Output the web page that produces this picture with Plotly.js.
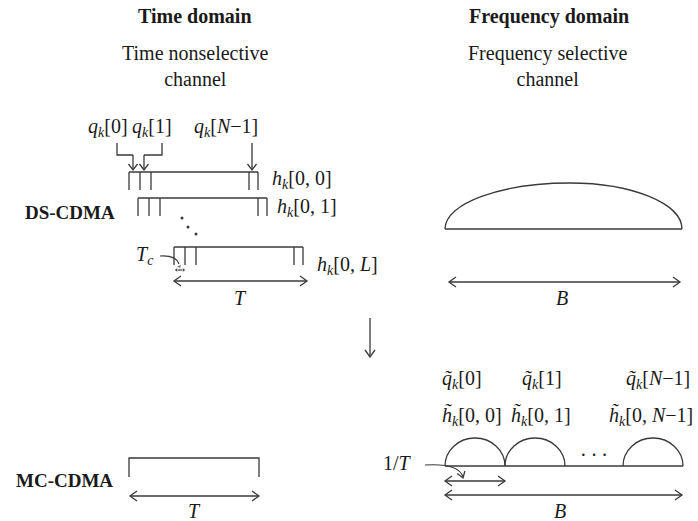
<!DOCTYPE html>
<html><head><meta charset="utf-8">
<script src="https://cdn.plot.ly/plotly-3.0.1.min.js"></script>
<style>html,body{margin:0;padding:0;background:#fff}#chart{width:698px;height:521px}</style>
</head><body><div id="chart"></div>
<script>
// ---------- texts ----------
const columnHeadings = ['Time domain', 'Frequency domain'];
const channelTypes = ['Time nonselective<br>channel', 'Frequency selective<br>channel'];
const schemes = ['DS-CDMA', 'MC-CDMA'];
const chipLabels = ['<i>q<sub>k</sub></i>[0]', '<i>q<sub>k</sub></i>[1]', '<i>q<sub>k</sub></i>[<i>N</i>\u22121]'];
const pathLabels = ['<i>h<sub>k</sub></i>[0, 0]', '<i>h<sub>k</sub></i>[0, 1]', '<i>h<sub>k</sub></i>[0, <i>L</i>]'];
const subcarrierCodes = ['<i>q\u0303<sub>k</sub></i>[0]', '<i>q\u0303<sub>k</sub></i>[1]', '<i>q\u0303<sub>k</sub></i>[<i>N</i>\u22121]'];
const subcarrierGains = ['<i>h\u0303<sub>k</sub></i>[0, 0]', '<i>h\u0303<sub>k</sub></i>[0, 1]', '<i>h\u0303<sub>k</sub></i>[0, <i>N</i>\u22121]'];
const durationLabels = { chip: '<i>T<sub>c</sub></i>', symbol: '<i>T</i>', band: '<i>B</i>', spacing: '1/<i>T</i>' };

// ---------- geometry (diagram layout, pixel-like units) ----------
const dsBlockLeft = [129, 138, 174];
const dsBlockTop = [172, 198, 247];
const chipEdges = [0, 11, 22, 120, 129];
const chipDepth = 18;
const subArcLeft = [445, 505, 623];
const subArcWidth = 60;

const INK = '#3a3a3a';
const FONT = 'Liberation Serif';
const LW = 1.3;

const bx = [], by = [];
function seg(xs, ys) { xs.forEach((v, i) => { bx.push(v); by.push(ys[i]); }); bx.push(null); by.push(null); }
function head(tx, ty, fx, fy, L, W) {
  const d = Math.hypot(tx - fx, ty - fy), ux = (tx - fx) / d, uy = (ty - fy) / d;
  seg([tx - L * ux + W * uy, tx, tx - L * ux - W * uy], [ty - L * uy - W * ux, ty, ty - L * uy + W * ux]);
}
function arrow(tx, ty, fx, fy, both, L, W) {
  L = L || 7; W = W || 5;
  seg([fx, tx], [fy, ty]);
  head(tx, ty, fx, fy, L, W);
  if (both) head(fx, fy, tx, ty, L, W);
}

// DS-CDMA blocks
dsBlockLeft.forEach((L, i) => {
  const T = dsBlockTop[i];
  seg([L, L + chipEdges[chipEdges.length - 1]], [T, T]);
  chipEdges.forEach(e => seg([L + e, L + e], [T, T + chipDepth]));
});
// MC-CDMA bracket
seg([129, 129, 259, 259], [477, 458, 458, 477]);
// q pointers
seg([117, 117, 133], [143, 155, 155]);
seg([162, 162, 144], [143, 155, 155]);
arrow(133, 170, 133, 155, false, 6, 4.5);
arrow(144, 170, 144, 155, false, 6, 4.5);
arrow(252, 170, 252, 143, false, 6, 4.5);
// duration / bandwidth arrows
arrow(307, 281, 174, 281, true);
arrow(259, 496, 130, 496, true);
arrow(680, 282, 449, 282, true);
arrow(682, 495, 445, 495, true);
arrow(505, 481, 445, 481, true);
// baselines
seg([445, 682], [229, 229]);
seg([445, 683], [466, 466]);
// transform arrow
arrow(370, 357, 370, 318, false, 7, 5);
// 1/T pointer head
head(463, 478, 461, 472, 6, 4);
// Tc small double arrow shaft
seg([176, 184], [270, 270]);

const traces = [
  { x: bx, y: by, mode: 'lines', line: { color: INK, width: LW }, hoverinfo: 'skip', showlegend: false },
  { x: [182, 188, 196], y: [218, 227, 234], mode: 'markers', marker: { color: INK, size: 3 }, hoverinfo: 'skip', showlegend: false },
  { x: [176.5, 183.5, 179.5], y: [270, 270, 266.5], mode: 'markers',
    marker: { color: INK, size: [5, 5, 5], symbol: ['triangle-left', 'triangle-right', 'triangle-down'], angle: [0, 0, -25] },
    hoverinfo: 'skip', showlegend: false }
];

// ---- shapes: curves ----
const shapes = [];
const k = 0.5523;
(function () {
  const x0 = 445, x1 = 682, xp = 570, yb = 229, yt = 183;
  const rl = xp - x0, rr = x1 - xp, h = yb - yt;
  shapes.push({ type: 'path', xref: 'x', yref: 'y', line: { color: INK, width: LW },
    path: `M${x0},${yb} C${x0},${yb - h * k} ${xp - rl * k},${yt} ${xp},${yt} C${xp + rr * k},${yt} ${x1},${yb - h * k} ${x1},${yb}` });
})();
subArcLeft.forEach(x0 => {
  const r = subArcWidth / 2, c = x0 + r, yb = 466, h = 28, yt = yb - h;
  shapes.push({ type: 'path', xref: 'x', yref: 'y', line: { color: INK, width: LW },
    path: `M${x0},${yb} C${x0},${yb - h * k} ${c - r * k},${yt} ${c},${yt} C${c + r * k},${yt} ${x0 + subArcWidth},${yb - h * k} ${x0 + subArcWidth},${yb}` });
});
shapes.push({ type: 'path', xref: 'x', yref: 'y', line: { color: INK, width: 1.1 }, path: 'M160,256 Q176,255 179,264' });
shapes.push({ type: 'path', xref: 'x', yref: 'y', line: { color: INK, width: 1.1 }, path: 'M425,465 Q459,463 463,477' });

// ---- annotations (texts only) ----
const ann = [];
function txt(x, y, t, size, opt) {
  ann.push(Object.assign({ x: x, y: y, xref: 'x', yref: 'y', text: t, showarrow: false,
    font: { size: size }, xanchor: 'center', yanchor: 'middle' }, opt || {}));
}
const bold = (s) => '<b>' + s + '</b>';

txt(195, 16, bold(columnHeadings[0]), 20);
txt(549, 16, bold(columnHeadings[1]), 20);
txt(195, 66, channelTypes[0], 20);
txt(547, 66, channelTypes[1], 20);
txt(70, 212, bold(schemes[0]), 19);
txt(64, 480, bold(schemes[1]), 19);

[108, 152, 226].forEach((x, i) => txt(x, 127, chipLabels[i], 20));
[[270, 179], [275, 207], [315, 265]].forEach((p, i) => txt(p[0], p[1], pathLabels[i], 20, { xanchor: 'left' }));
[462, 542, 658].forEach((x, i) => txt(x, 379, subcarrierCodes[i], 20));
[472, 541, 651].forEach((x, i) => txt(x, 416, subcarrierGains[i], 20));

txt(145, 255, durationLabels.chip, 20);
txt(240, 298, durationLabels.symbol, 20);
txt(194, 511, durationLabels.symbol, 20);
txt(562, 298, durationLabels.band, 20);
txt(560, 511, durationLabels.band, 20);
txt(397, 463, durationLabels.spacing, 20);
txt(594, 455, '\u00b7\u2009\u00b7\u2009\u00b7', 20);

const layout = {
  width: 698, height: 521,
  margin: { l: 0, r: 0, t: 0, b: 0 },
  font: { family: FONT, size: 20, color: '#1a1a1a' },
  paper_bgcolor: '#fff', plot_bgcolor: '#fff',
  xaxis: { range: [0, 698], visible: false, fixedrange: true },
  yaxis: { range: [521, 0], visible: false, fixedrange: true },
  shapes: shapes, annotations: ann, showlegend: false
};
Plotly.newPlot('chart', traces, layout, { displayModeBar: false });
</script></body></html>
